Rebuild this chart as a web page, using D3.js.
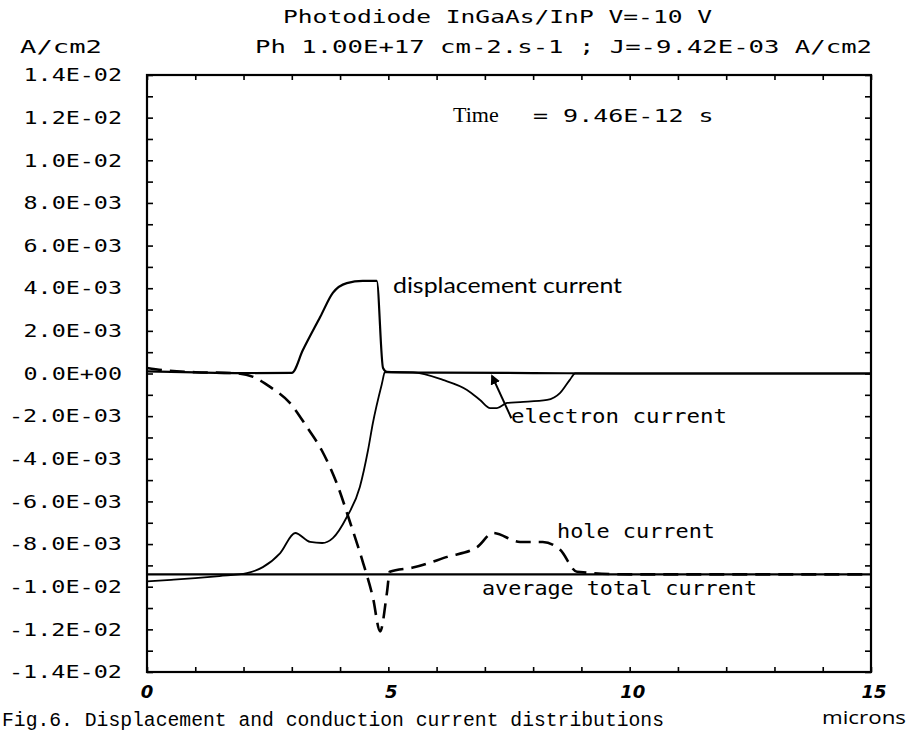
<!DOCTYPE html>
<html>
<head>
<meta charset="utf-8">
<script src="https://cdn.jsdelivr.net/npm/d3@7"></script>
<style>
  body { margin: 0; background: #fff; }
  svg { display: block; }
</style>
</head>
<body>
<svg id="chart" width="912" height="732"></svg>
<script>
// values in units of 1E-03 A/cm2, positions in microns
var dispX = [0, 1, 2, 3.0, 3.23, 3.59, 3.85, 4.14, 4.47, 4.76, 4.89, 4.97, 6, 8, 10, 12, 15]
var dispY = [0.1, 0.05, 0.02, 0.03, 1.1, 2.66, 3.78, 4.24, 4.34, 4.34, 0.26, 0.08, 0.04, 0.02, 0, 0, 0]

var elecX = [0, 0.5, 1.0, 1.5, 2.07, 2.4, 2.76, 3.07, 3.38, 3.63, 3.85, 4.14, 4.41, 4.58, 4.68, 4.87, 4.93,
    5.51, 6.13, 6.63, 6.90, 7.11, 7.25, 7.46, 7.73, 8.29, 8.56, 8.76, 8.87, 10, 15]
var elecY = [-9.75, -9.68, -9.6, -9.5, -9.36, -9.08, -8.42, -7.48, -7.9, -7.95, -7.72, -6.73, -5.32, -3.59, -2.32, -0.45, 0.07,
    0.05, -0.3, -0.77, -1.24, -1.62, -1.62, -1.38, -1.34, -1.24, -0.91, -0.3, 0, 0, 0]

var holeX = [0, 0.41, 1.0, 1.8, 2.2, 2.55, 2.96, 3.31, 3.62, 3.94, 4.21, 4.48, 4.68, 4.83, 4.97, 5.03,
    5.51, 6.22, 6.84, 7.17, 7.73, 8.2, 8.56, 8.91, 10, 15]
var holeY = [0.26, 0.14, 0.06, 0.02, -0.16, -0.63, -1.38, -2.5, -3.6, -5.2, -7.0, -8.9, -10.5, -12.1, -10.3, -9.3,
    -9.1, -8.6, -8.14, -7.48, -7.9, -7.9, -8.27, -9.3, -9.42, -9.42]

var avgX = [0, 15]
var avgY = [-9.42, -9.42]

var yTicks = d3.range(-14, 14.5, 1)
var xTicks = d3.range(0, 16, 1)
var xLabels = [0, 5, 10, 15]

var titleLine1 = 'Photodiode InGaAs/InP V=-10 V'
var titleLine2 = 'Ph 1.00E+17 cm-2.s-1 ; J=-9.42E-03 A/cm2'
var yUnit = 'A/cm2'
var xUnit = 'microns'
var caption = 'Fig.6. Displacement and conduction current distributions'

var xScale = d3.scaleLinear().domain([0, 15]).range([147, 871])
var yScale = d3.scaleLinear().domain([-14, 14]).range([672, 75])

var svg = d3.select('#chart')
var plotFont = '"DejaVu Sans Mono", monospace'

function fmtE(v) {
    var s = (v * 1e-3).toExponential(1).toUpperCase()   // e.g. 1.4E-2
    var m = s.match(/^(-?[\d.]+)E([+-])(\d+)$/)
    var exp = m[3].length < 2 ? '0' + m[3] : m[3]
    return m[1] + 'E' + m[2] + exp
}

// plotter style text: monospace glyphs stretched to a fixed pitch
function plotText(sel, pitch) {
    sel.attr('font-family', plotFont).attr('font-size', 18).attr('fill', '#000')
        .attr('lengthAdjust', 'spacingAndGlyphs')
        .attr('textLength', function () { return this.textContent.length * pitch - 3 })
}

// left axis, ticks pointing inward
var yAxisL = d3.axisLeft(yScale)
    .tickValues(yTicks)
    .tickSizeInner(-6).tickSizeOuter(0)
    .tickPadding(25)
    .tickFormat(function (d) { return Math.abs(d % 2) === 0 ? fmtE(d) : '' })
var gL = svg.append('g').attr('transform', 'translate(' + xScale(0) + ',0)').call(yAxisL)
gL.selectAll('text').filter(function () { return this.textContent !== '' }).call(plotText, 14.5)

var yAxisR = d3.axisRight(yScale).tickValues(yTicks).tickSizeInner(-6).tickSizeOuter(0).tickFormat('')
svg.append('g').attr('transform', 'translate(' + xScale(15) + ',0)').call(yAxisR)

var xAxisB = d3.axisBottom(xScale).tickValues(xTicks).tickSizeInner(-5).tickSizeOuter(0).tickFormat('')
svg.append('g').attr('transform', 'translate(0,' + yScale(-14) + ')').call(xAxisB)
var xAxisT = d3.axisTop(xScale).tickValues(xTicks).tickSizeInner(-5).tickSizeOuter(0).tickFormat('')
svg.append('g').attr('transform', 'translate(0,' + yScale(14) + ')').call(xAxisT)

svg.selectAll('.domain').remove()
svg.selectAll('.tick line').attr('stroke', '#000').attr('stroke-width', 1.6)

// frame
svg.append('rect')
    .attr('x', xScale(0)).attr('y', yScale(14))
    .attr('width', xScale(15) - xScale(0)).attr('height', yScale(-14) - yScale(14))
    .attr('fill', 'none').attr('stroke', '#000').attr('stroke-width', 2.2)

// hand written x labels
svg.selectAll('.xlab').data(xLabels).join('text')
    .attr('class', 'xlab')
    .attr('x', d => xScale(d) + (d === 0 ? 0 : 3))
    .attr('y', yScale(-14) + 26)
    .attr('text-anchor', 'middle')
    .attr('font-family', '"DejaVu Sans", sans-serif')
    .attr('font-weight', 'bold').attr('font-style', 'italic')
    .attr('font-size', 18)
    .text(d => d)

// curves
var line = d3.line()
    .x(d => xScale(d[0]))
    .y(d => yScale(d[1]))
    .curve(d3.curveMonotoneX)

function pairs(xs, ys) { return xs.map((v, i) => [v, ys[i]]) }

svg.append('path').datum(pairs(avgX, avgY)).attr('d', line)
    .attr('fill', 'none').attr('stroke', '#000').attr('stroke-width', 2.2)
svg.append('path').datum(pairs(dispX, dispY)).attr('d', line)
    .attr('fill', 'none').attr('stroke', '#000').attr('stroke-width', 2.2)
svg.append('path').datum(pairs(elecX, elecY)).attr('d', line)
    .attr('fill', 'none').attr('stroke', '#000').attr('stroke-width', 1.8)
svg.append('path').datum(pairs(holeX, holeY)).attr('d', line)
    .attr('fill', 'none').attr('stroke', '#000').attr('stroke-width', 2.6)
    .attr('stroke-dasharray', '15,8')

// arrow to the electron current
svg.append('defs').append('marker')
    .attr('id', 'head').attr('viewBox', '0 0 10 10')
    .attr('refX', 8).attr('refY', 5)
    .attr('markerWidth', 5).attr('markerHeight', 5)
    .attr('orient', 'auto')
    .append('path').attr('d', 'M0,0 L10,5 L0,10 Z').attr('fill', '#000')
svg.append('line')
    .attr('x1', xScale(7.55)).attr('y1', yScale(-2.1))
    .attr('x2', xScale(7.15)).attr('y2', yScale(-0.12))
    .attr('stroke', '#000').attr('stroke-width', 2)
    .attr('marker-end', 'url(#head)')

// annotations
var annoFont = '"DejaVu Sans Mono", monospace'
svg.append('text').attr('x', 393).attr('y', 293)
    .attr('font-family', 'Lato, "Open Sans", sans-serif').attr('font-size', 22)
    .attr('textLength', 229).attr('lengthAdjust', 'spacingAndGlyphs')
    .text('displacement current')
svg.append('text').attr('x', 511).attr('y', 423)
    .attr('font-family', annoFont).attr('font-size', 20)
    .attr('textLength', 216).attr('lengthAdjust', 'spacingAndGlyphs')
    .text('electron current')
svg.append('text').attr('x', 557).attr('y', 538)
    .attr('font-family', annoFont).attr('font-size', 20)
    .attr('textLength', 158).attr('lengthAdjust', 'spacingAndGlyphs')
    .text('hole current')
svg.append('text').attr('x', 482).attr('y', 595)
    .attr('font-family', annoFont).attr('font-size', 20)
    .attr('textLength', 275).attr('lengthAdjust', 'spacingAndGlyphs')
    .text('average total current')

// time stamp
svg.append('text').attr('x', 453).attr('y', 122)
    .attr('font-family', '"Liberation Serif", serif').attr('font-size', 22)
    .text('Time')
svg.append('text').attr('x', 533).attr('y', 122).text('= 9.46E-12 s').call(plotText, 15.3)

// titles
svg.append('text').attr('x', 283).attr('y', 23).text(titleLine1).call(plotText, 14.9)
svg.append('text').attr('x', 255).attr('y', 53).text(titleLine2).call(plotText, 15.5)
svg.append('text').attr('x', 20).attr('y', 53).text(yUnit).call(plotText, 17)

// caption and unit
svg.append('text').attr('x', 2).attr('y', 726)
    .attr('font-family', '"Liberation Mono", monospace').attr('font-size', 20)
    .attr('textLength', 662).attr('lengthAdjust', 'spacingAndGlyphs')
    .text(caption)
svg.append('text').attr('x', 822).attr('y', 724)
    .attr('font-family', '"Open Sans", sans-serif').attr('font-size', 18)
    .attr('textLength', 84).attr('lengthAdjust', 'spacingAndGlyphs')
    .text(xUnit)
</script>
</body>
</html>
